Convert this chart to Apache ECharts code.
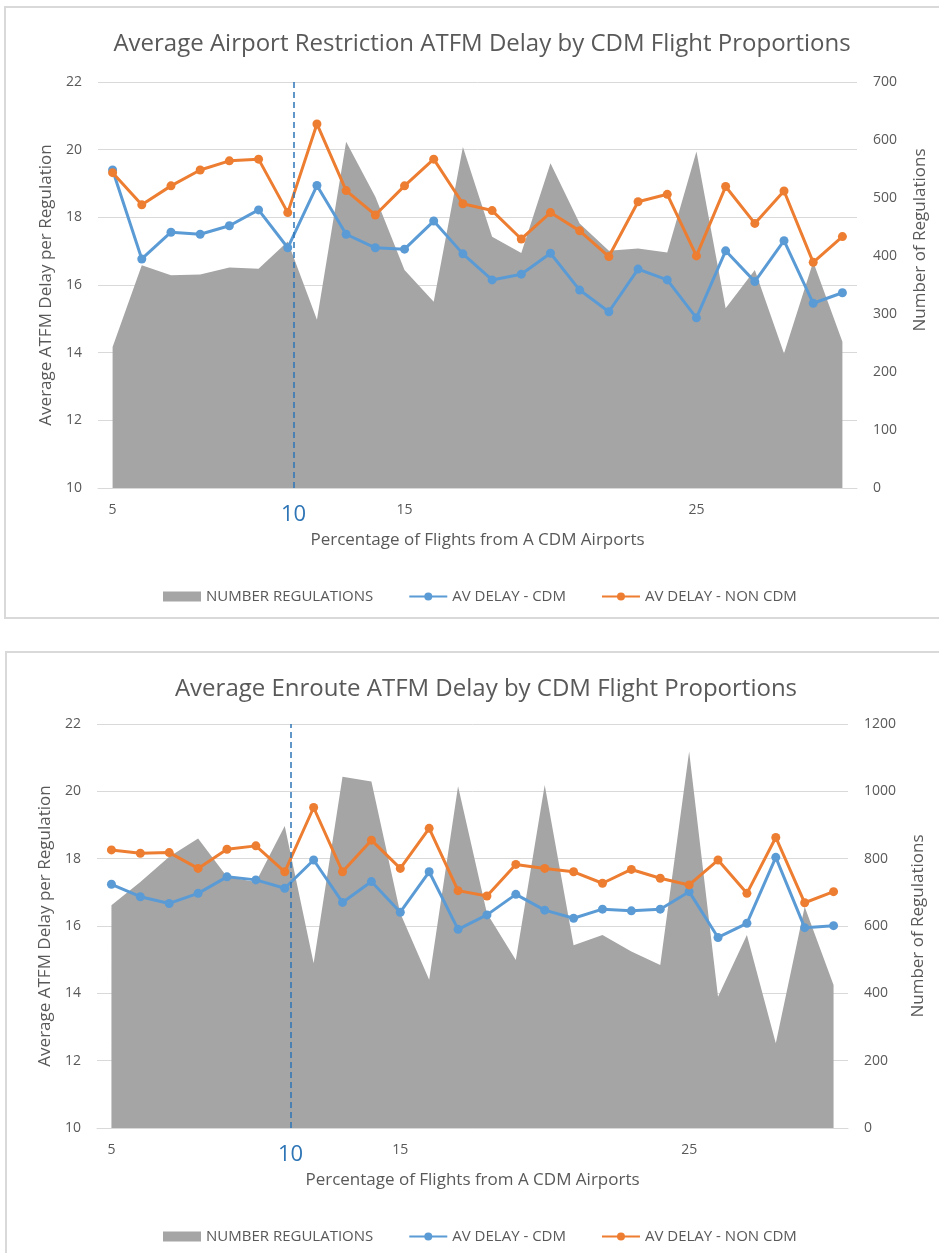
<!DOCTYPE html>
<html><head><meta charset="utf-8">
<script src="https://cdn.jsdelivr.net/npm/echarts@6/dist/echarts.min.js"></script>
<style>html,body{margin:0;padding:0;background:#fff}#c{width:939px;height:1253px}</style>
</head><body><div id="c"></div>
<script>
const categories = ['5','6','7','8','9','10','11','12','13','14','15','16','17','18','19','20','21','22','23','24','25','26','27','28','29','30'];
const leftTicks = [10, 22, 2];
const airportRegs = [243,384,367,368,380,378,425,290,597,502,376,321,588,433,405,560,456,409,413,406,580,310,376,232,390,252];
const airportCdm = [19.40,16.77,17.56,17.50,17.75,18.22,17.10,18.94,17.50,17.10,17.06,17.89,16.92,16.15,16.32,16.94,15.85,15.21,16.47,16.15,15.03,17.01,16.10,17.31,15.46,15.77];
const airportNonCdm = [19.32,18.37,18.93,19.40,19.67,19.72,18.14,20.76,18.79,18.07,18.93,19.72,18.40,18.20,17.36,18.14,17.60,16.84,18.46,18.68,16.86,18.91,17.82,18.78,16.67,17.43];
const enrouteRegs = [662,731,806,860,746,731,897,489,1043,1029,638,440,1015,638,499,1019,543,573,524,484,1118,390,573,252,657,425];
const enrouteCdm = [17.24,16.87,16.67,16.97,17.46,17.37,17.12,17.96,16.70,17.32,16.41,17.61,15.90,16.33,16.94,16.47,16.23,16.50,16.45,16.50,17.02,15.66,16.08,18.04,15.95,16.01];
const enrouteNonCdm = [18.26,18.16,18.18,17.71,18.28,18.38,17.61,19.52,17.61,18.55,17.71,18.90,17.05,16.89,17.83,17.71,17.61,17.27,17.68,17.42,17.22,17.96,16.97,18.63,16.69,17.02];
const markerPos = 6.2;   // annotation line position (category index units)
const markerLabel = '10';

const FONT = 'Open Sans';
const TXT = '#595959';
const BLUE = '#5B9BD5', ORANGE = '#ED7D31', GRAY = '#A5A5A5', ANNO = '#2E75B6';

const chart = echarts.init(document.getElementById('c'), null, {renderer: 'canvas'});

function axesFor(g, rightMax, rightInterval, leftGap, rightGap) {
  return {
    x: [
      {gridIndex: g, type: 'category', data: categories, boundaryGap: true,
       axisLine: {show: true, lineStyle: {color: '#d9d9d9', width: 1}},
       axisTick: {show: false},
       axisLabel: {interval: 9, color: TXT, fontSize: 14, fontFamily: FONT, margin: 15},
       name: 'Percentage of Flights from A CDM Airports', nameLocation: 'middle', nameGap: 44,
       nameTextStyle: {color: TXT, fontSize: 17, fontFamily: FONT}},
      {gridIndex: g, type: 'value', min: -0.5, max: categories.length - 0.5, show: false}
    ],
    y: [
      {gridIndex: g, type: 'value', min: leftTicks[0], max: leftTicks[1], interval: leftTicks[2],
       axisLine: {show: false}, axisTick: {show: false},
       splitLine: {show: true, lineStyle: {color: '#d9d9d9', width: 1}},
       axisLabel: {color: TXT, fontSize: 14, fontFamily: FONT, margin: 16},
       name: 'Average ATFM Delay per Regulation', nameLocation: 'middle', nameGap: leftGap,
       nameTextStyle: {color: TXT, fontSize: 17, fontFamily: FONT}},
      {gridIndex: g, type: 'value', position: 'right', min: 0, max: rightMax, interval: rightInterval,
       axisLine: {show: false}, axisTick: {show: false}, splitLine: {show: false},
       axisLabel: {color: TXT, fontSize: 14, fontFamily: FONT, margin: 16, formatter: function (v) { return String(v); }},
       name: 'Number of Regulations', nameLocation: 'middle', nameGap: rightGap,
       nameTextStyle: {color: TXT, fontSize: 17, fontFamily: FONT}}
    ]
  };
}
const a1 = axesFor(0, 700, 100, 43, 55);
const a2 = axesFor(1, 1200, 200, 41, 62);
a1.y[1].nameTextStyle.padding = [0, 0, 0, 90];

function seriesFor(g, regs, cdm, non) {
  const xi = g * 2, yi = g * 2;
  return [
    {name: 'NUMBER REGULATIONS', type: 'line', xAxisIndex: xi, yAxisIndex: yi + 1, data: regs,
     symbol: 'none', lineStyle: {width: 0}, itemStyle: {color: GRAY},
     areaStyle: {color: GRAY, opacity: 1}, z: 1},
    {name: 'AV DELAY - CDM', type: 'line', xAxisIndex: xi, yAxisIndex: yi, data: cdm,
     symbol: 'circle', symbolSize: 9, lineStyle: {width: 3, color: BLUE}, itemStyle: {color: BLUE}, z: 3},
    {name: 'AV DELAY - NON CDM', type: 'line', xAxisIndex: xi, yAxisIndex: yi, data: non,
     symbol: 'circle', symbolSize: 9, lineStyle: {width: 3, color: ORANGE}, itemStyle: {color: ORANGE}, z: 3},
    {name: 'anno', type: 'scatter', xAxisIndex: xi + 1, yAxisIndex: yi, data: [], silent: true, z: 5,
     markLine: {silent: true, symbol: ['none', 'none'],
       lineStyle: {color: ANNO, type: [6, 4], width: 1.5},
       label: {show: true, position: 'start', formatter: markerLabel, color: ANNO, fontSize: 22, fontFamily: FONT, distance: 16},
       data: [{xAxis: markerPos}]}}
  ];
}

function legendFor(top) {
  return {top: top, left: 158, itemWidth: 38, itemHeight: 10, itemGap: 35,
    textStyle: {color: TXT, fontSize: 15, fontFamily: FONT},
    data: [{name: 'NUMBER REGULATIONS', icon: 'rect'}, 'AV DELAY - CDM', 'AV DELAY - NON CDM']};
}

chart.setOption({
  backgroundColor: '#fff',
  animation: false,
  title: [
    {text: 'Average Airport Restriction ATFM Delay by CDM Flight Proportions', left: 477, textAlign: 'center', top: 27,
     textStyle: {color: TXT, fontSize: 24, fontWeight: 'normal', fontFamily: FONT}},
    {text: 'Average Enroute ATFM Delay by CDM Flight Proportions', left: 481, textAlign: 'center', top: 672,
     textStyle: {color: TXT, fontSize: 24, fontWeight: 'normal', fontFamily: FONT}}
  ],
  graphic: [
    {type: 'rect', shape: {x: 5, y: 7, width: 960, height: 611}, style: {fill: 'none', stroke: '#d9d9d9', lineWidth: 2}, silent: true, z: -1},
    {type: 'rect', shape: {x: 6, y: 652, width: 960, height: 620}, style: {fill: 'none', stroke: '#d9d9d9', lineWidth: 2}, silent: true, z: -1}
  ],
  legend: [legendFor(584), legendFor(1224)],
  grid: [
    {left: 98, right: 82, top: 82, height: 406},
    {left: 97, right: 91, top: 724, height: 404}
  ],
  xAxis: a1.x.concat(a2.x),
  yAxis: a1.y.concat(a2.y),
  series: seriesFor(0, airportRegs, airportCdm, airportNonCdm).concat(seriesFor(1, enrouteRegs, enrouteCdm, enrouteNonCdm))
});
</script></body></html>
